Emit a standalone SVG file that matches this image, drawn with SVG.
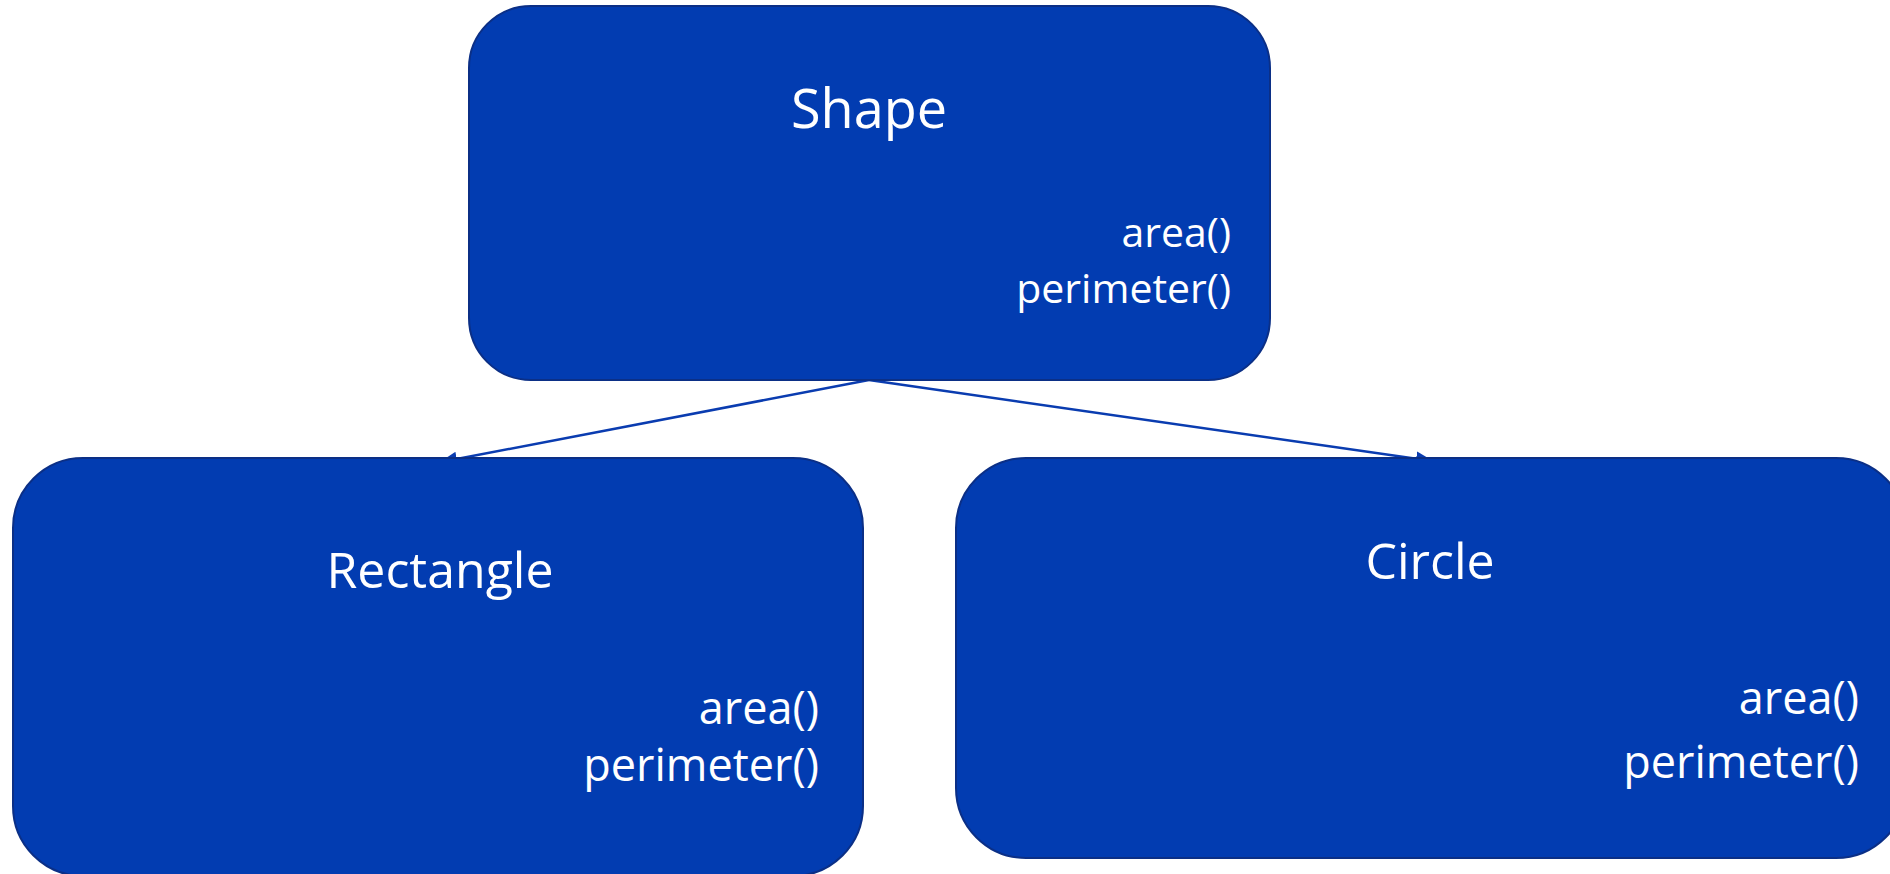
<svg xmlns="http://www.w3.org/2000/svg" width="1890" height="874" viewBox="0 0 1890 874">
  <style>
    .box { fill: #023cb1; stroke: #0b2f86; stroke-width: 2; }
    .title { font-family: "Open Sans", "Noto Sans", sans-serif; fill: #ffffff; text-anchor: middle; }
    .method { font-family: "Open Sans", "Noto Sans", sans-serif; fill: #ffffff; text-anchor: end; }
    .edge { stroke: #0a3cb0; stroke-width: 2.5; fill: none; marker-end: url(#head); }
  </style>
  <defs>
    <marker id="head" viewBox="0 0 12 10" refX="11" refY="5" markerWidth="7" markerHeight="6" orient="auto" markerUnits="strokeWidth">
      <path d="M0,0 L12,5 L0,10 Z" fill="#0a3cb0"/>
    </marker>
  </defs>
  <rect width="1890" height="874" fill="#ffffff"/>

  <!-- inheritance connectors, drawn beneath the boxes -->
  <g id="connectors">
    <line class="edge" x1="869" y1="380" x2="441" y2="462"/>
    <line class="edge" x1="869" y1="380" x2="1432" y2="461"/>
  </g>

  <g id="node-shape">
    <rect class="box" x="469" y="6" width="801" height="374" rx="62" ry="62"/>
    <text class="title" x="869" y="128" font-size="54">Shape</text>
    <text class="method" x="1231" y="247" font-size="41">area()</text>
    <text class="method" x="1231" y="303" font-size="41">perimeter()</text>
  </g>

  <g id="node-rectangle">
    <rect class="box" x="13" y="458" width="850" height="418" rx="70" ry="70"/>
    <text class="title" x="440" y="588" font-size="50">Rectangle</text>
    <text class="method" x="819" y="724" font-size="45">area()</text>
    <text class="method" x="819" y="781" font-size="45">perimeter()</text>
  </g>

  <g id="node-circle">
    <rect class="box" x="956" y="458" width="950" height="400" rx="70" ry="70"/>
    <text class="title" x="1430" y="579" font-size="50">Circle</text>
    <text class="method" x="1859" y="714" font-size="45">area()</text>
    <text class="method" x="1859" y="778" font-size="45">perimeter()</text>
  </g>
</svg>
